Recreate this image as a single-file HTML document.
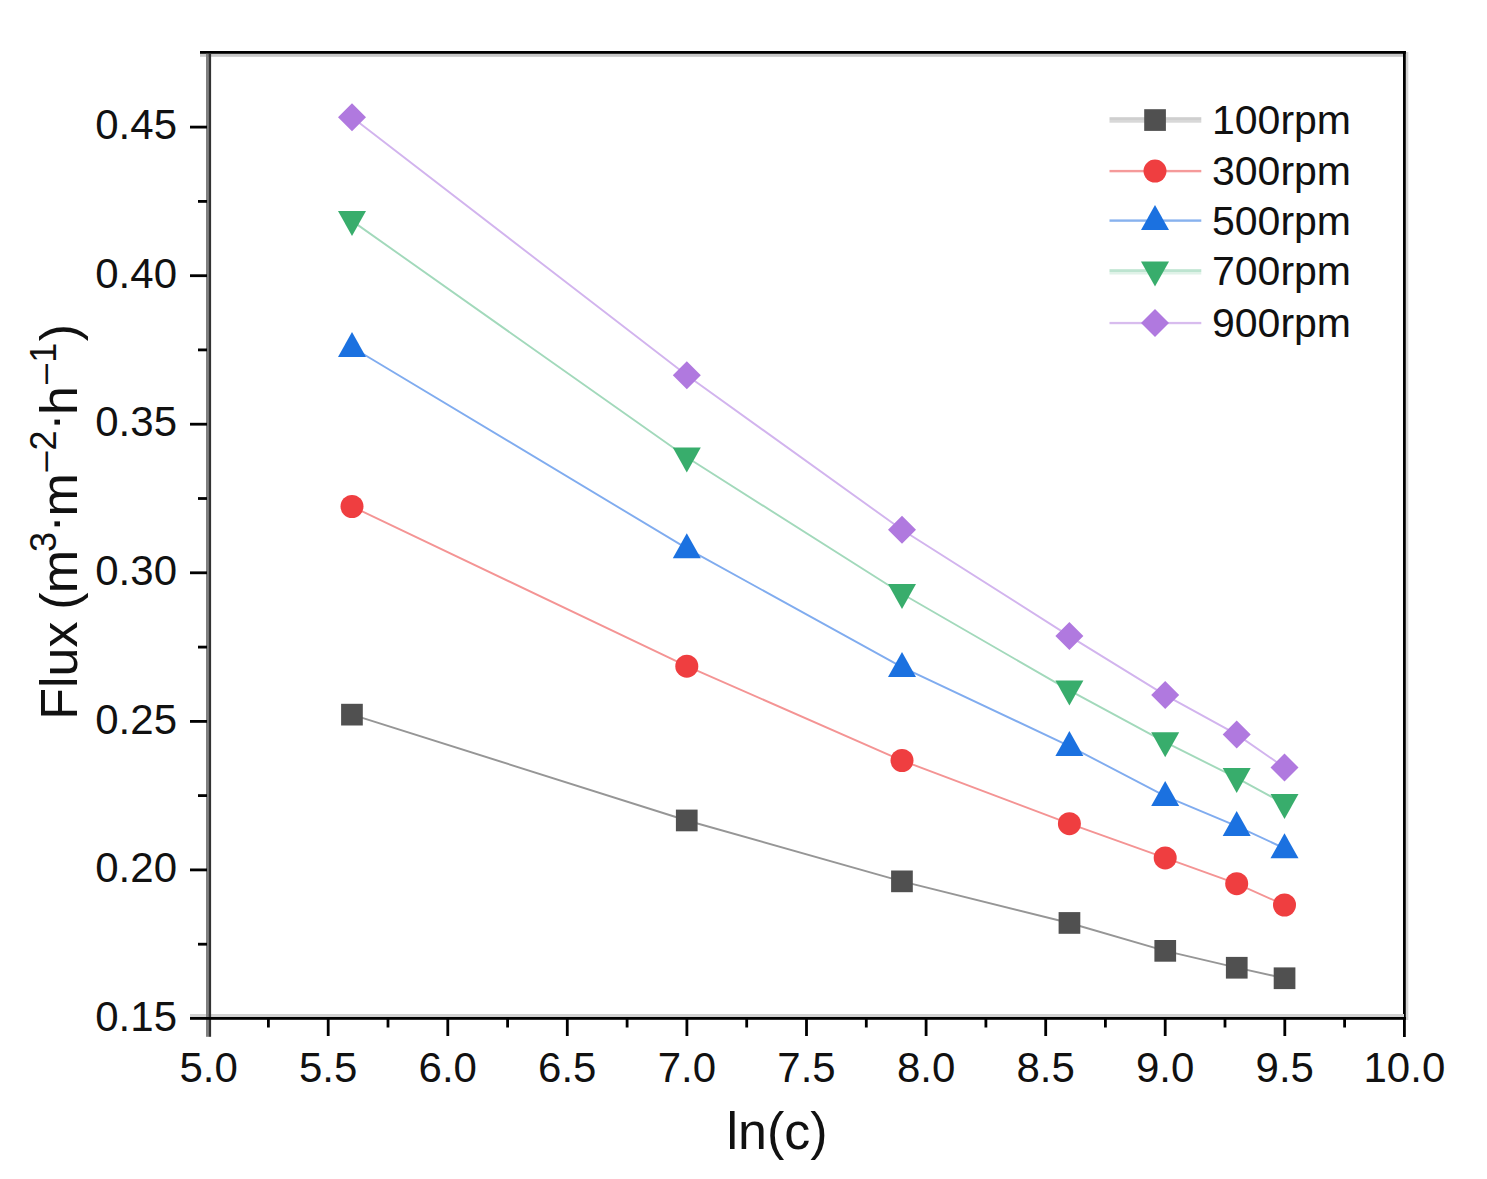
<!DOCTYPE html>
<html><head><meta charset="utf-8"><style>
html,body{margin:0;padding:0;background:#fff;width:1487px;height:1179px;overflow:hidden}
svg{display:block}
</style></head><body>
<svg width="1487" height="1179" viewBox="0 0 1487 1179">
<rect x="200" y="53.8" width="1203" height="3" fill="#c8c8c8"/>
<rect x="200" y="51" width="1206" height="2.8" fill="#000"/>
<rect x="1405.8" y="52" width="2.5" height="968" fill="#d4d4d4"/>
<rect x="1403" y="51" width="2.8" height="986" fill="#000"/>
<rect x="190" y="1014" width="1214" height="3" fill="#d2d2d2"/>
<rect x="206" y="53.8" width="2.5" height="983" fill="#808080"/>
<rect x="208.5" y="53.8" width="2.6" height="983" fill="#333"/>
<rect x="190" y="1017" width="1216" height="2.8" fill="#000"/>
<rect x="198" y="942.8" width="9" height="2.8" fill="#000"/>
<rect x="190" y="868.5" width="17" height="2.8" fill="#000"/>
<rect x="198" y="794.2" width="9" height="2.8" fill="#000"/>
<rect x="190" y="720.0" width="17" height="2.8" fill="#000"/>
<rect x="198" y="645.7" width="9" height="2.8" fill="#000"/>
<rect x="190" y="571.4" width="17" height="2.8" fill="#000"/>
<rect x="198" y="497.1" width="9" height="2.8" fill="#000"/>
<rect x="190" y="422.8" width="17" height="2.8" fill="#000"/>
<rect x="198" y="348.5" width="9" height="2.8" fill="#000"/>
<rect x="190" y="274.3" width="17" height="2.8" fill="#000"/>
<rect x="198" y="200.0" width="9" height="2.8" fill="#000"/>
<rect x="190" y="125.7" width="17" height="2.8" fill="#000"/>
<rect x="267.0" y="1019" width="2.8" height="8.5" fill="#000"/>
<rect x="326.8" y="1019" width="2.8" height="17" fill="#000"/>
<rect x="386.6" y="1019" width="2.8" height="8.5" fill="#000"/>
<rect x="446.4" y="1019" width="2.8" height="17" fill="#000"/>
<rect x="506.2" y="1019" width="2.8" height="8.5" fill="#000"/>
<rect x="565.9" y="1019" width="2.8" height="17" fill="#000"/>
<rect x="625.7" y="1019" width="2.8" height="8.5" fill="#000"/>
<rect x="685.5" y="1019" width="2.8" height="17" fill="#000"/>
<rect x="745.3" y="1019" width="2.8" height="8.5" fill="#000"/>
<rect x="805.1" y="1019" width="2.8" height="17" fill="#000"/>
<rect x="864.9" y="1019" width="2.8" height="8.5" fill="#000"/>
<rect x="924.7" y="1019" width="2.8" height="17" fill="#000"/>
<rect x="984.5" y="1019" width="2.8" height="8.5" fill="#000"/>
<rect x="1044.3" y="1019" width="2.8" height="17" fill="#000"/>
<rect x="1104.0" y="1019" width="2.8" height="8.5" fill="#000"/>
<rect x="1163.8" y="1019" width="2.8" height="17" fill="#000"/>
<rect x="1223.6" y="1019" width="2.8" height="8.5" fill="#000"/>
<rect x="1283.4" y="1019" width="2.8" height="17" fill="#000"/>
<rect x="1343.2" y="1019" width="2.8" height="8.5" fill="#000"/>
<g font-family="Liberation Sans, sans-serif" font-size="42" fill="#111">
<text x="208.6" y="1082" text-anchor="middle">5.0</text>
<text x="328.2" y="1082" text-anchor="middle">5.5</text>
<text x="447.8" y="1082" text-anchor="middle">6.0</text>
<text x="567.3" y="1082" text-anchor="middle">6.5</text>
<text x="686.9" y="1082" text-anchor="middle">7.0</text>
<text x="806.5" y="1082" text-anchor="middle">7.5</text>
<text x="926.1" y="1082" text-anchor="middle">8.0</text>
<text x="1045.7" y="1082" text-anchor="middle">8.5</text>
<text x="1165.2" y="1082" text-anchor="middle">9.0</text>
<text x="1284.8" y="1082" text-anchor="middle">9.5</text>
<text x="1404.4" y="1082" text-anchor="middle">10.0</text>
<text x="177" y="1030.7" text-anchor="end">0.15</text>
<text x="177" y="882.1" text-anchor="end">0.20</text>
<text x="177" y="733.6" text-anchor="end">0.25</text>
<text x="177" y="585.0" text-anchor="end">0.30</text>
<text x="177" y="436.4" text-anchor="end">0.35</text>
<text x="177" y="287.9" text-anchor="end">0.40</text>
<text x="177" y="139.3" text-anchor="end">0.45</text>
</g>
<text x="777" y="1149" text-anchor="middle" font-family="Liberation Sans, sans-serif" font-size="52" fill="#111">ln(c)</text>
<g font-family="Liberation Sans, sans-serif" fill="#111">
<text transform="translate(76.6 719.7) rotate(-90)" font-size="52">Flux</text>
<text transform="translate(76.6 609.8) rotate(-90)" font-size="52">(</text>
<text transform="translate(76.6 593.2) rotate(-90)" font-size="52">m</text>
<text transform="translate(55.5 551.9) rotate(-90)" font-size="36">3</text>
<text transform="translate(70.6 532.6) rotate(-90)" font-size="52">·</text>
<text transform="translate(76.6 516.6) rotate(-90)" font-size="52">m</text>
<text transform="translate(55.5 471.5) rotate(-90)" font-size="36">–</text>
<text transform="translate(55.5 450.5) rotate(-90)" font-size="36">2</text>
<text transform="translate(70.6 430.7) rotate(-90)" font-size="52">·</text>
<text transform="translate(76.6 415.0) rotate(-90)" font-size="52">h</text>
<text transform="translate(55.5 383.9) rotate(-90)" font-size="36">–</text>
<text transform="translate(55.5 362.8) rotate(-90)" font-size="36">1</text>
<text transform="translate(76.6 341.2) rotate(-90)" font-size="52">)</text>
</g>
<polyline points="352.0,714.6 686.8,820.5 902.0,881.4 1069.4,923.0 1165.2,950.9 1236.7,967.7 1284.5,978.2" fill="none" stroke="#969696" stroke-width="1.9"/>
<polyline points="352.0,506.5 686.8,666.2 902.0,760.5 1069.4,823.7 1165.2,857.9 1236.7,883.7 1284.5,905.0" fill="none" stroke="#f49494" stroke-width="1.9"/>
<polyline points="352.0,347.2 686.8,548.4 902.0,667.1 1069.4,746.1 1165.2,796.1 1236.7,826.1 1284.5,848.4" fill="none" stroke="#80acef" stroke-width="1.9"/>
<polyline points="352.0,220.9 686.8,457.3 902.0,593.8 1069.4,690.4 1165.2,742.2 1236.7,777.9 1284.5,803.9" fill="none" stroke="#a2d9bb" stroke-width="1.9"/>
<polyline points="352.0,117.2 686.8,375.3 902.0,529.8 1069.4,636.1 1165.2,695.1 1236.7,734.4 1284.5,767.5" fill="none" stroke="#d2b4ee" stroke-width="1.9"/>
<rect x="341.1" y="703.8" width="21.7" height="21.7" fill="#505050"/>
<rect x="675.9" y="809.6" width="21.7" height="21.7" fill="#505050"/>
<rect x="891.1" y="870.5" width="21.7" height="21.7" fill="#505050"/>
<rect x="1058.6" y="912.1" width="21.7" height="21.7" fill="#505050"/>
<rect x="1154.4" y="940.0" width="21.7" height="21.7" fill="#505050"/>
<rect x="1225.9" y="956.9" width="21.7" height="21.7" fill="#505050"/>
<rect x="1273.7" y="967.4" width="21.7" height="21.7" fill="#505050"/>
<circle cx="352.0" cy="506.5" r="11.5" fill="#ef3e40"/>
<circle cx="686.8" cy="666.2" r="11.5" fill="#ef3e40"/>
<circle cx="902.0" cy="760.5" r="11.5" fill="#ef3e40"/>
<circle cx="1069.4" cy="823.7" r="11.5" fill="#ef3e40"/>
<circle cx="1165.2" cy="857.9" r="11.5" fill="#ef3e40"/>
<circle cx="1236.7" cy="883.7" r="11.5" fill="#ef3e40"/>
<circle cx="1284.5" cy="905.0" r="11.5" fill="#ef3e40"/>
<path d="M352.0 332.1L366.0 357.1L338.0 357.1Z" fill="#1b71e0"/>
<path d="M686.8 533.3L700.8 558.3L672.8 558.3Z" fill="#1b71e0"/>
<path d="M902.0 652.0L916.0 677.0L888.0 677.0Z" fill="#1b71e0"/>
<path d="M1069.4 731.0L1083.4 756.0L1055.4 756.0Z" fill="#1b71e0"/>
<path d="M1165.2 781.0L1179.2 806.0L1151.2 806.0Z" fill="#1b71e0"/>
<path d="M1236.7 811.0L1250.7 836.0L1222.7 836.0Z" fill="#1b71e0"/>
<path d="M1284.5 833.3L1298.5 858.3L1270.5 858.3Z" fill="#1b71e0"/>
<path d="M338.0 211.0L366.0 211.0L352.0 236.0Z" fill="#38ad6c"/>
<path d="M672.8 447.4L700.8 447.4L686.8 472.4Z" fill="#38ad6c"/>
<path d="M888.0 583.9L916.0 583.9L902.0 608.9Z" fill="#38ad6c"/>
<path d="M1055.4 680.5L1083.4 680.5L1069.4 705.5Z" fill="#38ad6c"/>
<path d="M1151.2 732.3L1179.2 732.3L1165.2 757.3Z" fill="#38ad6c"/>
<path d="M1222.7 768.0L1250.7 768.0L1236.7 793.0Z" fill="#38ad6c"/>
<path d="M1270.5 794.0L1298.5 794.0L1284.5 819.0Z" fill="#38ad6c"/>
<path d="M352.0 103.2L366.0 117.2L352.0 131.2L338.0 117.2Z" fill="#b079df"/>
<path d="M686.8 361.3L700.8 375.3L686.8 389.3L672.8 375.3Z" fill="#b079df"/>
<path d="M902.0 515.8L916.0 529.8L902.0 543.8L888.0 529.8Z" fill="#b079df"/>
<path d="M1069.4 622.1L1083.4 636.1L1069.4 650.1L1055.4 636.1Z" fill="#b079df"/>
<path d="M1165.2 681.1L1179.2 695.1L1165.2 709.1L1151.2 695.1Z" fill="#b079df"/>
<path d="M1236.7 720.4L1250.7 734.4L1236.7 748.4L1222.7 734.4Z" fill="#b079df"/>
<path d="M1284.5 753.5L1298.5 767.5L1284.5 781.5L1270.5 767.5Z" fill="#b079df"/>
<rect x="1109.5" y="117.2" width="91.8" height="2.8" fill="#cfcfcf"/>
<rect x="1109.5" y="120.0" width="91.8" height="2.7" fill="#d8d8d8"/>
<rect x="1144.2" y="109.2" width="21.7" height="21.7" fill="#505050"/>
<text x="1212" y="134.0" font-family="Liberation Sans, sans-serif" font-size="41" fill="#111">100rpm</text>
<rect x="1109.5" y="169.9" width="91.8" height="2.4" fill="#f59a9a"/>
<circle cx="1155.0" cy="171.1" r="11.5" fill="#ef3e40"/>
<text x="1212" y="185.1" font-family="Liberation Sans, sans-serif" font-size="41" fill="#111">300rpm</text>
<rect x="1109.5" y="219.4" width="91.8" height="2.4" fill="#88b2ee"/>
<path d="M1155.0 205.1L1169.0 230.1L1141.0 230.1Z" fill="#1b71e0"/>
<text x="1212" y="234.6" font-family="Liberation Sans, sans-serif" font-size="41" fill="#111">500rpm</text>
<rect x="1109.5" y="269.2" width="91.8" height="2.8" fill="#bde4d0"/>
<rect x="1109.5" y="272.0" width="91.8" height="2.5" fill="#e0f2e8"/>
<path d="M1141.0 261.4L1169.0 261.4L1155.0 286.4Z" fill="#38ad6c"/>
<text x="1212" y="284.9" font-family="Liberation Sans, sans-serif" font-size="41" fill="#111">700rpm</text>
<rect x="1109.5" y="321.9" width="91.8" height="2.3" fill="#d8bcee"/>
<path d="M1155.0 309.0L1169.0 323.0L1155.0 337.0L1141.0 323.0Z" fill="#b079df"/>
<text x="1212" y="337.0" font-family="Liberation Sans, sans-serif" font-size="41" fill="#111">900rpm</text>
</svg>
</body></html>
